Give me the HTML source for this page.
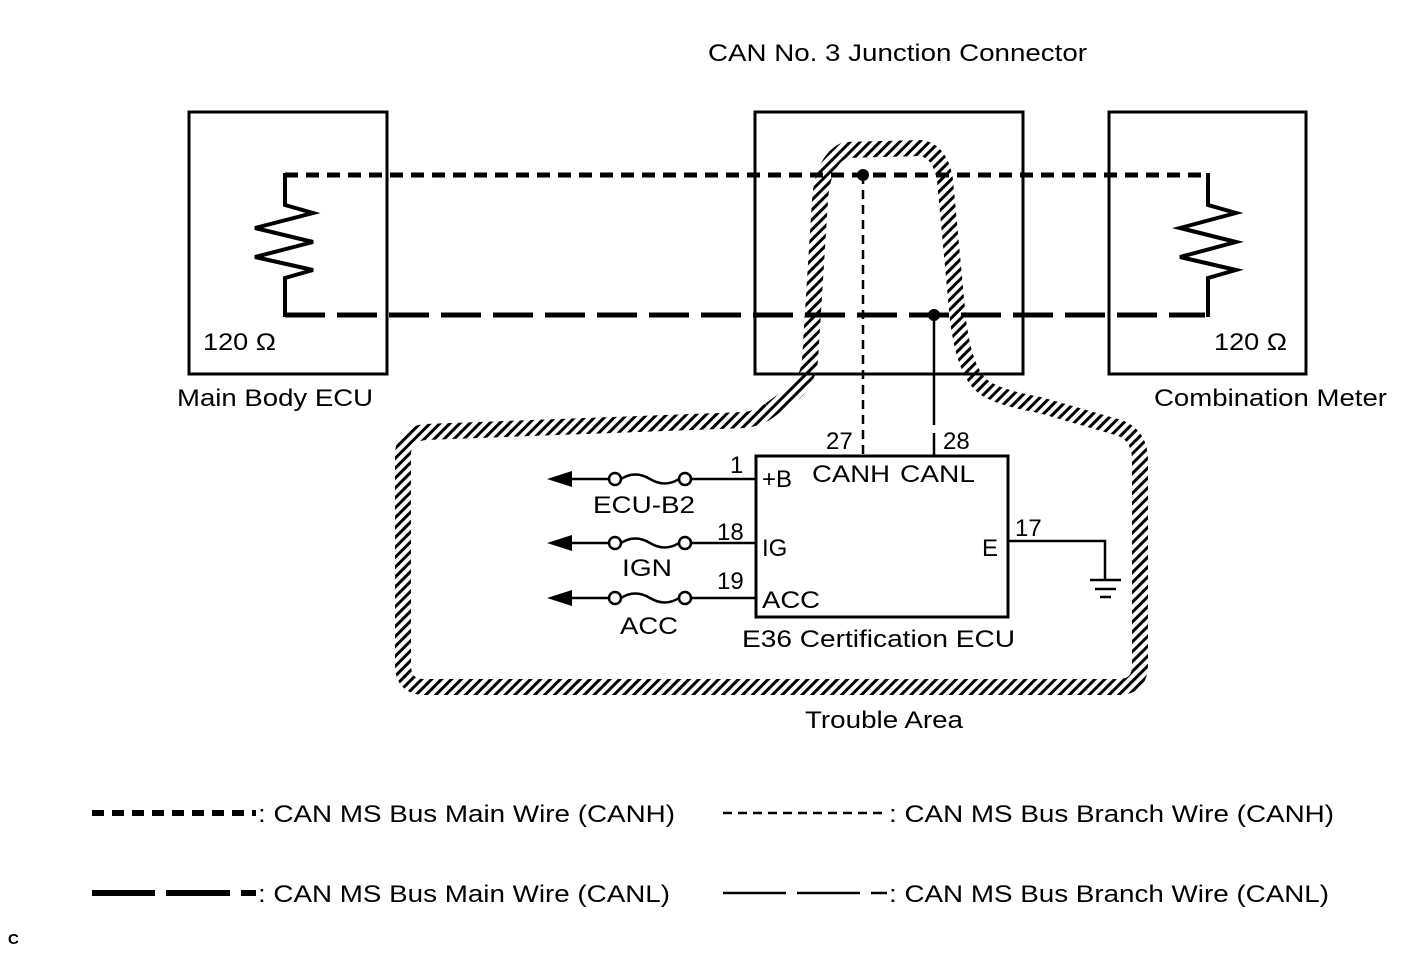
<!DOCTYPE html>
<html><head><meta charset="utf-8"><style>
body{margin:0;background:#fff}
svg text{font-family:"Liberation Sans",Arial,sans-serif;font-size:24px;fill:#000}
</style></head><body>
<svg width="1424" height="959" viewBox="0 0 1424 959" xmlns="http://www.w3.org/2000/svg">
<defs>
<pattern id="h" patternUnits="userSpaceOnUse" width="7" height="7" patternTransform="rotate(-45)">
<rect x="0" y="0" width="7" height="3" fill="#000"/>
</pattern>
</defs>
<path d="M770,410 L795,392 Q808,380 810,360 L820,200 Q823,160 845,150 L920,148 Q940,150 945,180 L958,320 Q965,375 985,388 Q1000,398 1040,405 L1120,428 Q1140,436 1140,460 L1140,665 Q1140,687 1118,687 L425,687 Q403,687 403,665 L403,455 Q403,435 425,432 L745,420 Q760,418 770,410" fill="none" stroke="url(#h)" stroke-width="16"/>
<g fill="none" stroke="#000" stroke-width="3">
<rect x="189" y="112" width="198" height="262"/>
<rect x="755" y="112" width="268" height="262"/>
<rect x="1109" y="112" width="197" height="262"/>
<rect x="756" y="456" width="252" height="161"/>
</g>
<path d="M285,175 H1205" stroke="#000" stroke-width="5" stroke-dasharray="13,8" fill="none"/>
<path d="M285,315 H1205" stroke="#000" stroke-width="5" stroke-dasharray="40,12" fill="none"/>
<g fill="none" stroke="#000" stroke-width="4">
<path d="M285,173 V205 L313,213 L255,228 L313,242 L255,257 L313,270 L285,278 V317"/>
<path d="M1208,173 V205 L1236,213 L1180,228 L1236,242 L1180,257 L1236,270 L1208,278 V317"/>
</g>
<circle cx="863" cy="175" r="6"/>
<circle cx="934" cy="315" r="6"/>
<path d="M863,175 V455" stroke="#000" stroke-width="2.5" stroke-dasharray="9,6"/>
<path d="M934,315 V455" stroke="#000" stroke-width="2.5" stroke-dasharray="110,8"/>
<g stroke="#000" stroke-width="2.5" fill="none">
<path d="M565,479 H609 M691,479 H756 M565,543 H609 M691,543 H756 M565,598 H609 M691,598 H756"/>
<circle cx="615" cy="479" r="6" fill="#fff"/><circle cx="685" cy="479" r="6" fill="#fff"/>
<circle cx="615" cy="543" r="6" fill="#fff"/><circle cx="685" cy="543" r="6" fill="#fff"/>
<circle cx="615" cy="598" r="6" fill="#fff"/><circle cx="685" cy="598" r="6" fill="#fff"/>
<path d="M621,479 Q635,470 650,479 Q665,488 679,479"/>
<path d="M621,543 Q635,534 650,543 Q665,552 679,543"/>
<path d="M621,598 Q635,589 650,598 Q665,607 679,598"/>
<path d="M1008,541 H1105 V580 M1090,580 H1121 M1095,589 H1116 M1100,597 H1111"/>
</g>
<path d="M547,479 L572,471 L572,487Z M547,543 L572,535 L572,551Z M547,598 L572,590 L572,606Z"/>
<g lengthAdjust="spacingAndGlyphs">
<text x="708" y="61" textLength="379" lengthAdjust="spacingAndGlyphs">CAN No. 3 Junction Connector</text>
<text x="203" y="350" textLength="73" lengthAdjust="spacingAndGlyphs">120 Ω</text>
<text x="1214" y="350" textLength="73" lengthAdjust="spacingAndGlyphs">120 Ω</text>
<text x="177" y="406" textLength="196" lengthAdjust="spacingAndGlyphs">Main Body ECU</text>
<text x="1154" y="406" textLength="233" lengthAdjust="spacingAndGlyphs">Combination Meter</text>
<text x="826" y="449">27</text>
<text x="943" y="449">28</text>
<text x="812" y="482" textLength="78" lengthAdjust="spacingAndGlyphs">CANH</text>
<text x="900" y="482" textLength="75" lengthAdjust="spacingAndGlyphs">CANL</text>
<text x="762" y="487">+B</text>
<text x="730" y="473">1</text>
<text x="593" y="513" textLength="102" lengthAdjust="spacingAndGlyphs">ECU-B2</text>
<text x="717" y="540">18</text>
<text x="762" y="556">IG</text>
<text x="622" y="576" textLength="50" lengthAdjust="spacingAndGlyphs">IGN</text>
<text x="717" y="589">19</text>
<text x="762" y="608" textLength="58" lengthAdjust="spacingAndGlyphs">ACC</text>
<text x="620" y="634" textLength="58" lengthAdjust="spacingAndGlyphs">ACC</text>
<text x="982" y="556">E</text>
<text x="1015" y="536">17</text>
<text x="742" y="647" textLength="273" lengthAdjust="spacingAndGlyphs">E36 Certification ECU</text>
<text x="805" y="728" textLength="158" lengthAdjust="spacingAndGlyphs">Trouble Area</text>
</g>
<path d="M92,813 H256" stroke="#000" stroke-width="6" stroke-dasharray="12,8"/>
<text x="258" y="822" textLength="417" lengthAdjust="spacingAndGlyphs">: CAN MS Bus Main Wire (CANH)</text>
<path d="M723,813 H887" stroke="#000" stroke-width="2.5" stroke-dasharray="9,6"/>
<text x="889" y="822" textLength="445" lengthAdjust="spacingAndGlyphs">: CAN MS Bus Branch Wire (CANH)</text>
<path d="M92,893 L155,893 M166,893 L230,893 M241,893 L256,893" stroke="#000" stroke-width="6"/>
<text x="258" y="902" textLength="412" lengthAdjust="spacingAndGlyphs">: CAN MS Bus Main Wire (CANL)</text>
<path d="M723,893 L786,893 M797,893 L860,893 M871,893 L887,893" stroke="#000" stroke-width="2.5"/>
<text x="889" y="902" textLength="440" lengthAdjust="spacingAndGlyphs">: CAN MS Bus Branch Wire (CANL)</text>
<text x="8" y="944" style="font-size:15px;font-weight:bold">C</text>
</svg>
</body></html>
